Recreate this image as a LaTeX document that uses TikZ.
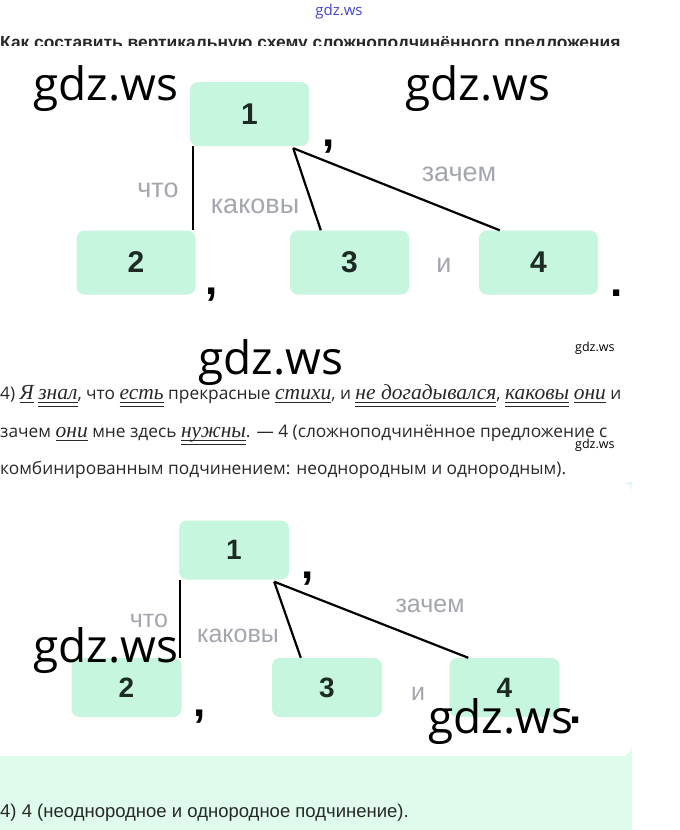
\documentclass[tikz,border=0pt]{standalone}
\usepackage{fontspec}
\setmainfont{Open Sans}
\newfontfamily\diafont{Liberation Sans}
\newfontfamily\wordfont{Liberation Serif}
\newfontfamily\markfont{Open Sans}
\usetikzlibrary{calc}
\tikzset{>=stealth}
\definecolor{boxgreen}{RGB}{198,246,221}
\definecolor{panelgreen}{RGB}{222,251,236}
\definecolor{numcol}{RGB}{30,42,36}
\definecolor{conjgray}{RGB}{163,166,173}
\definecolor{textcol}{RGB}{40,40,40}
\definecolor{linkblue}{RGB}{70,70,210}
\newcommand\wordit{\wordfont\itshape\fontsize{21.5}{21.5}\selectfont}
\newcommand\subj[1]{\setbox0\hbox{\wordit #1}\rlap{\rule[-4.2pt]{\wd0}{0.8pt}}\box0\relax}
\newcommand\pred[1]{\setbox0\hbox{\wordit #1}\rlap{\rule[-4.2pt]{\wd0}{0.8pt}}\rlap{\rule[-7.6pt]{\wd0}{0.8pt}}\box0\relax}
\tikzset{
  box/.style={fill=boxgreen, rounded corners=8pt, minimum width=119pt, minimum height=64pt, inner sep=0pt, text=numcol, font=\diafont\bfseries\fontsize{30}{30}\selectfont},
  smallbox/.style={box, minimum width=110pt, minimum height=59pt, font=\diafont\bfseries\fontsize{28}{28}\selectfont},
  conj/.style={text=conjgray, anchor=base, inner sep=0pt, font=\diafont\fontsize{27}{27}\selectfont},
  smallconj/.style={conj, font=\diafont\fontsize{25}{25}\selectfont},
  punct/.style={anchor=base, inner sep=0pt, font=\diafont\bfseries\fontsize{44}{44}\selectfont},
  link/.style={line width=2.2pt},
  wmark/.style={anchor=base west, inner sep=0pt, font=\markfont\fontsize{46}{46}\selectfont},
  textline/.style={anchor=base west, inner sep=0pt, text=textcol, font=\fontsize{17.3}{17.3}\selectfont},
}

\begin{document}
\begin{tikzpicture}[x=1pt,y=-1pt]
\useasboundingbox (0,0) rectangle (680,830);
\fill[white] (0,0) rectangle (680,830);
\node[inner sep=0pt, text=linkblue, font=\markfont\fontsize{15}{15}\selectfont] (site) at (339,12) {gdz.ws};
\begin{scope}
\clip (0,30) rectangle (680,45.5);
\node[anchor=base west, inner sep=0pt, text=textcol, font=\diafont\bfseries\fontsize{17.4}{17.4}\selectfont] (title) at (0,48) {Как составить вертикальную схему сложноподчинённого предложения};
\end{scope}
% first scheme
\node[box] (a1) at (249.5,114) {1};
\foreach \n/\x in {2/136,3/349.5,4/538.5}{
\node[box] (a\n) at (\x,262.5) {\n};
};
\draw[link] ([xshift=3pt]a1.south west) -- ([xshift=3pt]a1.south west |- a2.north);
\coordinate (top1) at ([xshift=-16pt,yshift=-2pt]a1.south east);
\draw[link] (top1) -- ([xshift=31pt]a3.north west);
\draw[link] (top1) -- ([xshift=21pt]a4.north west);
\node[conj] (what1) at (158,197) {что};
\node[conj] (which1) at (255,213) {каковы};
\node[conj] (why1) at (459,181) {зачем};
\node[conj] (and1) at (444,272) {и};
\node[punct] (c1) at (329,146) {,};
\node[punct] (c2) at (212,294) {,};
\node[punct] (p1) at (617,296) {.};
% text
\node[textline] (t1) at (0,399) {4) \subj{Я} \pred{знал}, что \pred{есть} прекрасные \subj{стихи}, и \pred{не догадывался}, \pred{каковы} \subj{они} и};
\node[textline] (t2) at (0,437) {зачем \subj{они} мне здесь \pred{нужны}. — 4 (сложноподчинённое предложение с};
\node[textline] (t3) at (0,474) {комбинированным подчинением: неоднородным и однородным).};
% second scheme
\fill[panelgreen] (0,482) rectangle (632,830);
\fill[white, rounded corners=10pt] (-12,482) rectangle (632,756);
\node[smallbox] (b1) at (234,550) {1};
\foreach \n/\x in {2/126.5,3/327,4/504.5}{
\node[smallbox] (b\n) at (\x,687.5) {\n};
};
\draw[link] ([xshift=1.5pt]b1.south west) -- ([xshift=1.5pt]b1.south west |- b2.north);
\coordinate (top2) at ([xshift=-15pt,yshift=-2pt]b1.south east);
\draw[link] (top2) -- ([xshift=29pt]b3.north west);
\draw[link] (top2) -- ([xshift=19pt]b4.north west);
\node[smallconj] (what2) at (149,627) {что};
\node[smallconj] (which2) at (238,642) {каковы};
\node[smallconj] (why2) at (430,612) {зачем};
\node[smallconj] (and2) at (418,700) {и};
\node[punct] (c3) at (308,578) {,};
\node[punct] (c4) at (200,716) {,};
\node[punct] (p2) at (576,723) {.};
\node[textline, font=\diafont\fontsize{18.5}{18.5}\selectfont] (t4) at (0,817) {4) 4 (неоднородное и однородное подчинение).};
% marks
\node[wmark] (m1) at (33,100) {gdz.ws};
\node[wmark] (m2) at (405,100) {gdz.ws};
\node[wmark] (m3) at (198,374) {gdz.ws};
\node[wmark] (m4) at (33,662) {gdz.ws};
\node[wmark] (m5) at (428,733) {gdz.ws};
\node[wmark, font=\markfont\fontsize{12.5}{12.5}\selectfont] (m6) at (575,351) {gdz.ws};
\node[wmark, font=\markfont\fontsize{12.5}{12.5}\selectfont] (m7) at (575,448) {gdz.ws};
\end{tikzpicture}
\end{document}
